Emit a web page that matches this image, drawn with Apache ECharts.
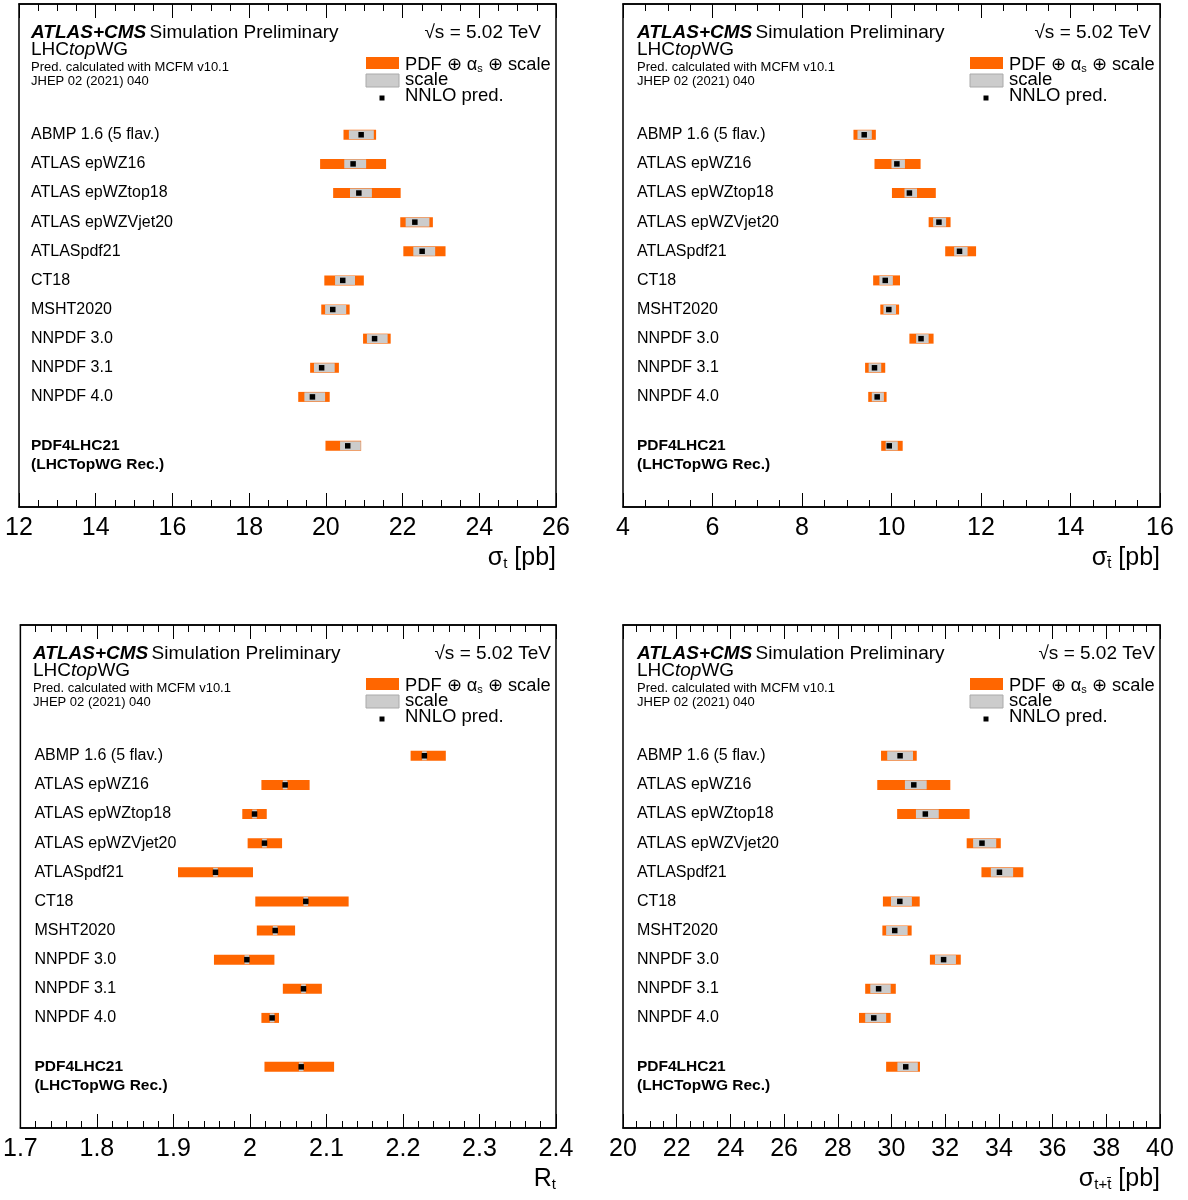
<!DOCTYPE html>
<html>
<head>
<meta charset="utf-8">
<script src="https://cdn.jsdelivr.net/npm/echarts@6/dist/echarts.min.js"></script>
<style>
html, body { margin: 0; padding: 0; background: #fff; }
#chart { width: 1188px; height: 1200px; }
</style>
</head>
<body>
<div id="chart"></div>
<script>
// PDF sets, top to bottom; the last entry is the combined recommendation
const pdfSets = ['ABMP 1.6 (5 flav.)', 'ATLAS epWZ16', 'ATLAS epWZtop18', 'ATLAS epWZVjet20',
  'ATLASpdf21', 'CT18', 'MSHT2020', 'NNPDF 3.0', 'NNPDF 3.1', 'NNPDF 4.0'];
const combinedSet = ['PDF4LHC21', '(LHCTopWG Rec.)'];

// sigma(t) [pb]
const sigT_central = [20.92, 20.71, 20.86, 22.32, 22.51, 20.44, 20.18, 21.27, 19.89, 19.65, 20.57];
const sigT_totLo   = [20.46, 19.85, 20.19, 21.94, 22.02, 19.96, 19.88, 20.97, 19.59, 19.28, 19.99];
const sigT_totHi   = [21.31, 21.57, 21.95, 22.79, 23.12, 20.99, 20.62, 21.69, 20.34, 20.10, 20.92];
const sigT_scLo    = [20.60, 20.48, 20.63, 22.08, 22.28, 20.24, 19.98, 21.07, 19.69, 19.44, 20.37];
const sigT_scHi    = [21.25, 21.05, 21.20, 22.70, 22.85, 20.76, 20.53, 21.61, 20.23, 19.98, 20.91];

// sigma(tbar) [pb]
const sigTbar_central = [9.39, 10.12, 10.40, 11.06, 11.52, 9.86, 9.94, 10.66, 9.62, 9.68, 9.95];
const sigTbar_totLo   = [9.15, 9.62, 10.01, 10.83, 11.20, 9.59, 9.75, 10.40, 9.41, 9.48, 9.77];
const sigTbar_totHi   = [9.65, 10.65, 10.99, 11.32, 11.89, 10.19, 10.17, 10.94, 9.86, 9.89, 10.25];
const sigTbar_scLo    = [9.24, 10.00, 10.29, 10.93, 11.40, 9.73, 9.82, 10.55, 9.49, 9.56, 9.87];
const sigTbar_scHi    = [9.56, 10.30, 10.57, 11.22, 11.70, 10.03, 10.10, 10.83, 9.77, 9.83, 10.14];

// R(t) = sigma(t) / sigma(tbar)
const ratio_central = [2.228, 2.046, 2.006, 2.019, 1.955, 2.073, 2.033, 1.996, 2.070, 2.029, 2.067];
const ratio_totLo   = [2.210, 2.015, 1.990, 1.997, 1.906, 2.007, 2.009, 1.953, 2.043, 2.015, 2.019];
const ratio_totHi   = [2.256, 2.078, 2.022, 2.042, 2.004, 2.129, 2.059, 2.032, 2.094, 2.038, 2.110];
const ratio_scLo    = [2.225, 2.043, 2.003, 2.016, 1.952, 2.070, 2.030, 1.993, 2.067, 2.026, 2.064];
const ratio_scHi    = [2.231, 2.049, 2.009, 2.022, 1.958, 2.076, 2.036, 1.999, 2.073, 2.032, 2.070];

// sigma(t+tbar) [pb]
const sigSum_central = [30.32, 30.83, 31.26, 33.37, 34.02, 30.31, 30.12, 31.94, 29.52, 29.34, 30.53];
const sigSum_totLo   = [29.61, 29.47, 30.21, 32.80, 33.35, 29.68, 29.66, 31.43, 29.02, 28.79, 29.80];
const sigSum_totHi   = [30.94, 32.19, 32.91, 34.07, 34.91, 31.05, 30.75, 32.58, 30.16, 29.97, 31.06];
const sigSum_scLo    = [29.84, 30.50, 30.91, 33.04, 33.70, 29.98, 29.80, 31.62, 29.21, 29.02, 30.22];
const sigSum_scHi    = [30.80, 31.31, 31.76, 33.90, 34.53, 30.76, 30.60, 32.40, 29.97, 29.80, 30.98];

// axis ranges: [min, max, major step, minor subdivisions]
const sigTAxis    = [12, 26, 2, 4];
const sigTbarAxis = [4, 16, 2, 4];
const ratioAxis   = [1.7, 2.4, 0.1, 5];
const sigSumAxis  = [20, 40, 2, 4];

const FONT = '"Liberation Sans", Arial, Helvetica, sans-serif';
const ORANGE = '#ff6600';
const GRAY = '#cccccc';
const COMBINED_OFFSET = 1.68;   // extra spacing before the combined row, in row units

function rowPositions(n) {
  const pos = [];
  for (let i = 0; i < n; i++) pos.push(i < pdfSets.length ? i : pdfSets.length - 1 + COMBINED_OFFSET);
  return pos;
}

const panels = [
  { left: 19,  top: 4,   axis: sigTAxis,    c: sigT_central,    tl: sigT_totLo,    th: sigT_totHi,    sl: sigT_scLo,    sh: sigT_scHi,
    title: '{m|σ}{s|t}{m| [pb]}', textOff: 12, sqrtRight: 15 },
  { left: 623, top: 4,   axis: sigTbarAxis, c: sigTbar_central, tl: sigTbar_totLo, th: sigTbar_totHi, sl: sigTbar_scLo, sh: sigTbar_scHi,
    title: '{m|σ}{s|t\u0304}{m| [pb]}', textOff: 14, sqrtRight: 9 },
  { left: 19,  top: 625, axis: ratioAxis,   c: ratio_central,   tl: ratio_totLo,   th: ratio_totHi,   sl: ratio_scLo,   sh: ratio_scHi,
    title: '{m|R}{s|t}', textOff: 14, sqrtRight: 5 },
  { left: 623, top: 625, axis: sigSumAxis,  c: sigSum_central,  tl: sigSum_totLo,  th: sigSum_totHi,  sl: sigSum_scLo,  sh: sigSum_scHi,
    title: '{m|σ}{s|t+t\u0304}{m| [pb]}', textOff: 14, sqrtRight: 5 }
];
const W = 537, H = 503;

const grids = [], xAxes = [], yAxes = [], series = [], graphics = [];

panels.forEach((p, k) => {
  grids.push({ left: p.left, top: p.top, width: W, height: H, show: true,
    borderColor: '#000', borderWidth: 1.5, backgroundColor: 'transparent' });

  ['bottom', 'top'].forEach(pos => {
    xAxes.push({
      gridIndex: k, type: 'value', position: pos,
      min: p.axis[0], max: p.axis[1], interval: p.axis[2],
      axisLine: { show: true, onZero: false, lineStyle: { color: '#000', width: 1.5 } },
      axisTick: { show: true, inside: true, length: 14, lineStyle: { color: '#000', width: 1 } },
      minorTick: { show: true, splitNumber: p.axis[3], length: 7, lineStyle: { color: '#000', width: 1 } },
      splitLine: { show: false },
      axisLabel: { show: pos === 'bottom', color: '#000', fontSize: 25, fontFamily: FONT, margin: 9,
        showMinLabel: true, showMaxLabel: true }
    });
  });
  yAxes.push({ gridIndex: k, type: 'value', min: -4.49, max: 12.78, inverse: true, show: false });

  const rows = rowPositions(p.c.length);
  const data = p.c.map((v, i) => [v, p.tl[i], p.th[i], p.sl[i], p.sh[i], rows[i]]);
  const textOff = p.textOff;

  series.push({
    type: 'custom', xAxisIndex: 2 * k, yAxisIndex: k, clip: false,
    encode: { x: [0, 1, 2, 3, 4], y: 5 },
    data: data,
    renderItem: function (params, api) {
      const cs = params.coordSys;
      const yv = api.value(5);
      const y = api.coord([api.value(0), yv])[1];
      const xc = api.coord([api.value(0), yv])[0];
      const xtl = api.coord([api.value(1), yv])[0];
      const xth = api.coord([api.value(2), yv])[0];
      const xsl = api.coord([api.value(3), yv])[0];
      const xsh = api.coord([api.value(4), yv])[0];
      const idx = params.dataIndex;
      const children = [
        { type: 'rect', shape: { x: xtl, y: y - 5, width: xth - xtl, height: 10 }, style: { fill: ORANGE } },
        { type: 'rect', shape: { x: xsl, y: y - 4.5, width: xsh - xsl, height: 9 }, style: { fill: GRAY } },
        { type: 'rect', shape: { x: xc - 2.75, y: y - 2.75, width: 5.5, height: 5.5 }, style: { fill: '#000' } }
      ];
      if (idx < pdfSets.length) {
        children.push({ type: 'text', x: cs.x + textOff, y: y,
          style: { text: pdfSets[idx], fill: '#000', font: '16px ' + FONT, verticalAlign: 'middle', align: 'left' } });
      } else {
        children.push({ type: 'text', x: cs.x + textOff, y: y,
          style: { text: combinedSet[0], fill: '#000', font: 'bold 15.5px ' + FONT, verticalAlign: 'middle', align: 'left' } });
        children.push({ type: 'text', x: cs.x + textOff, y: y + 19,
          style: { text: combinedSet[1], fill: '#000', font: 'bold 15.5px ' + FONT, verticalAlign: 'middle', align: 'left' } });
      }
      return { type: 'group', children: children };
    }
  });

  // header, legend and axis title
  const gx = p.left, gy = p.top;
  graphics.push(
    { type: 'text', x: gx + textOff, y: gy + 29, style: {
      text: '{b|ATLAS+CMS} {n|Simulation Preliminary}', verticalAlign: 'middle',
      rich: { b: { font: 'italic bold 19px ' + FONT, fill: '#000' }, n: { font: '19px ' + FONT, fill: '#000' } } } },
    { type: 'text', x: gx + textOff, y: gy + 46, style: {
      text: '{n|LHC}{i|top}{n|WG}', verticalAlign: 'middle',
      rich: { i: { font: 'italic 19px ' + FONT, fill: '#000' }, n: { font: '19px ' + FONT, fill: '#000' } } } },
    { type: 'text', x: gx + textOff, y: gy + 63, style: { text: 'Pred. calculated with MCFM v10.1',
      font: '13px ' + FONT, fill: '#000', verticalAlign: 'middle' } },
    { type: 'text', x: gx + textOff, y: gy + 77, style: { text: 'JHEP 02 (2021) 040',
      font: '13px ' + FONT, fill: '#000', verticalAlign: 'middle' } },
    { type: 'text', x: gx + W - p.sqrtRight, y: gy + 29, style: { text: '√s = 5.02 TeV',
      font: '19px ' + FONT, fill: '#000', verticalAlign: 'middle', align: 'right' } },
    { type: 'rect', shape: { x: gx + 347, y: gy + 53, width: 33, height: 12 }, style: { fill: ORANGE } },
    { type: 'text', x: gx + 386, y: gy + 59, style: {
      text: '{m|PDF ⊕ α}{s|s}{m| ⊕ scale}', verticalAlign: 'middle',
      rich: { m: { font: '18.3px ' + FONT, fill: '#000', lineHeight: 22, verticalAlign: 'bottom' },
              s: { font: '11px ' + FONT, fill: '#000', lineHeight: 11, verticalAlign: 'bottom' } } } },
    { type: 'rect', shape: { x: gx + 347, y: gy + 70, width: 33, height: 13 }, style: { fill: GRAY, stroke: '#aaaaaa', lineWidth: 1 } },
    { type: 'text', x: gx + 386, y: gy + 76, style: { text: 'scale', font: '18.5px ' + FONT, fill: '#000', verticalAlign: 'middle' } },
    { type: 'rect', shape: { x: gx + 360.5, y: gy + 91.5, width: 5, height: 5 }, style: { fill: '#000' } },
    { type: 'text', x: gx + 386, y: gy + 92, style: { text: 'NNLO pred.', font: '18.5px ' + FONT, fill: '#000', verticalAlign: 'middle' } },
    { type: 'text', x: gx + W, y: gy + H + 49, style: {
      text: p.title, align: 'right', verticalAlign: 'middle',
      rich: { m: { font: '25px ' + FONT, fill: '#000', lineHeight: 30, verticalAlign: 'bottom' },
              s: { font: '15px ' + FONT, fill: '#000', lineHeight: 15, verticalAlign: 'bottom' } } } }
  );
});

const chart = echarts.init(document.getElementById('chart'), null, { renderer: 'canvas' });
chart.setOption({
  animation: false,
  backgroundColor: '#fff',
  grid: grids,
  xAxis: xAxes,
  yAxis: yAxes,
  series: series,
  graphic: graphics
});
</script>
</body>
</html>
